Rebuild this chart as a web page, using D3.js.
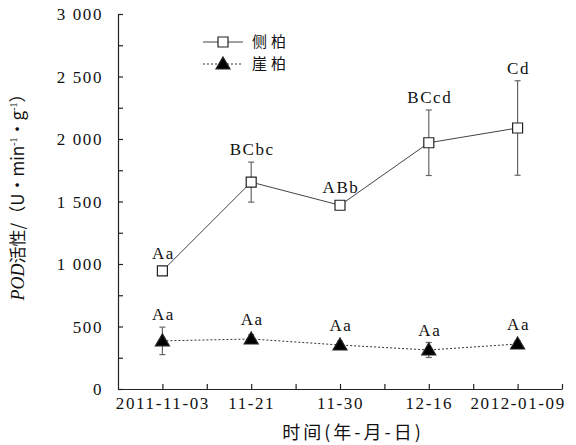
<!DOCTYPE html>
<html>
<head>
<meta charset="utf-8">
<script src="https://cdn.jsdelivr.net/npm/d3@7/dist/d3.min.js"></script>
<style>
  html, body { margin: 0; padding: 0; background: #fff; }
  svg { display: block; }
  .num { font-family: "Liberation Serif", "DejaVu Serif", serif; letter-spacing: 1.6px; }
  .cjk { font-family: "Noto Sans CJK SC", sans-serif; }
</style>
</head>
<body>
<svg id="chart" width="576" height="445"></svg>
<script>
// Sampling dates
const dates = ["2011-11-03", "11-21", "11-30", "12-16", "2012-01-09"];

// POD activity, U·min^-1·g^-1 (mean and standard error)
const cebaiMean = [945, 1655, 1470, 1970, 2088];
const cebaiErr  = [25, 160, 35, 262, 378];
const yabaiMean = [385, 400, 352, 312, 360];
const yabaiErr  = [110, 35, 30, 60, 25];

// Multiple-comparison letters
const cebaiSig = ["Aa", "BCbc", "ABb", "BCcd", "Cd"];
const yabaiSig = ["Aa", "Aa", "Aa", "Aa", "Aa"];

const seriesNames = ["侧柏", "崖柏"];
const yTicks = [0, 500, 1000, 1500, 2000, 2500, 3000];

const svg = d3.select("#chart");

const x = d3.scaleLinear().domain([-0.5, dates.length - 0.5]).range([118, 562]);
const y = d3.scaleLinear().domain([0, 3000]).range([389, 14]);

const fmt = d3.formatLocale({ decimal: ".", thousands: " ", grouping: [3], currency: ["", ""] }).format(",");

// Axes (ticks point inward)
svg.append("g").attr("transform", `translate(0,${y(0)})`)
  .call(d3.axisBottom(x).tickValues(d3.range(dates.length)).tickFormat(i => dates[i])
    .tickSizeInner(-5).tickSizeOuter(0).tickPadding(8));
svg.append("g").attr("transform", `translate(0,${y(0)})`)
  .call(d3.axisBottom(x).tickValues(d3.range(dates.length).map(i => i + 0.5)).tickFormat("")
    .tickSizeInner(-5).tickSizeOuter(0))
  .select(".domain").remove();

const yAxis = svg.append("g").attr("transform", `translate(${x(-0.5)},0)`)
  .call(d3.axisLeft(y).tickValues(yTicks).tickFormat(fmt)
    .tickSizeInner(-5).tickSizeOuter(0).tickPadding(15));
svg.append("g").attr("transform", `translate(${x(-0.5)},0)`)
  .call(d3.axisLeft(y).tickValues(yTicks.slice(0, -1).map(v => v + 250)).tickFormat("")
    .tickSizeInner(-5).tickSizeOuter(0))
  .select(".domain").remove();

svg.selectAll(".domain, .tick line").attr("stroke", "#222").attr("stroke-width", 1.2);
svg.selectAll(".tick text").attr("class", "num").attr("font-size", 17).attr("fill", "#111");
yAxis.selectAll(".tick text").attr("dy", "0.35em");

// Axis titles
svg.append("text").attr("class", "cjk")
  .attr("x", 353).attr("y", 439).attr("text-anchor", "middle")
  .attr("font-size", 18).attr("letter-spacing", "3px").attr("fill", "#111")
  .text("时间(年-月-日)");

const yl = svg.append("text")
  .attr("transform", "translate(24,193) rotate(-90)")
  .attr("text-anchor", "middle").attr("font-size", 17).attr("fill", "#111");
yl.append("tspan").attr("font-family", "Liberation Serif").attr("font-style", "italic").attr("font-size", 18).text("POD");
yl.append("tspan").attr("class", "cjk").text("活性/（U·min");
yl.append("tspan").attr("font-family", "Liberation Serif").attr("font-size", 10).attr("dy", -7).text("-1");
yl.append("tspan").attr("class", "cjk").attr("dy", 7).text("·g");
yl.append("tspan").attr("font-family", "Liberation Serif").attr("font-size", 10).attr("dy", -7).text("-1");
yl.append("tspan").attr("class", "cjk").attr("dy", 7).text("）");

// Draws one series: connecting line, error bars, markers, letters
function drawSeries(mean, err, sig, opts) {
  const g = svg.append("g");
  const line = d3.line().x((d, i) => x(i)).y(d => y(d));
  g.append("path").datum(mean).attr("d", line)
    .attr("fill", "none").attr("stroke", opts.lineColor).attr("stroke-width", 1)
    .attr("stroke-dasharray", opts.dash || null);

  const eb = g.selectAll(".eb").data(mean).join("g").attr("class", "eb");
  eb.append("line")
    .attr("x1", (d, i) => x(i)).attr("x2", (d, i) => x(i))
    .attr("y1", (d, i) => y(d + err[i])).attr("y2", (d, i) => y(d - err[i]))
    .attr("stroke", "#666").attr("stroke-width", 1.2);
  [1, -1].forEach(s => {
    eb.append("line")
      .attr("x1", (d, i) => x(i) - 3).attr("x2", (d, i) => x(i) + 3)
      .attr("y1", (d, i) => y(d + s * err[i])).attr("y2", (d, i) => y(d + s * err[i]))
      .attr("stroke", "#666").attr("stroke-width", 1.2);
  });

  g.selectAll(".mk").data(mean).join("path").attr("class", "mk")
    .attr("transform", (d, i) => `translate(${x(i)},${y(d)})`)
    .attr("d", opts.marker)
    .attr("fill", opts.fill).attr("stroke", "#222").attr("stroke-width", 1.2);

  g.selectAll(".sig").data(sig).join("text").attr("class", "sig num")
    .attr("x", (d, i) => x(i) + 1)
    .attr("y", (d, i) => Math.min(y(mean[i] + err[i]), y(mean[i]) - opts.half) - 7)
    .attr("text-anchor", "middle").attr("font-size", 17).attr("fill", "#111")
    .text(d => d);
}

const squarePath = "M-5,-5H5V5H-5Z";
const trianglePath = "M0,-7L7,5H-7Z";

drawSeries(cebaiMean, cebaiErr, cebaiSig, { lineColor: "#444", marker: squarePath, fill: "#fff", half: 5 });
drawSeries(yabaiMean, yabaiErr, yabaiSig, { lineColor: "#333", dash: "2,2", marker: trianglePath, fill: "#000", half: 7 });

// Legend
const legend = svg.append("g");
const rows = [
  { name: seriesNames[0], dash: null, marker: squarePath, fill: "#fff", color: "#444" },
  { name: seriesNames[1], dash: "2,2", marker: trianglePath, fill: "#000", color: "#333" }
];
rows.forEach((r, k) => {
  const cy = 42 + k * 22;
  legend.append("line").attr("x1", 203).attr("x2", 243).attr("y1", cy).attr("y2", cy)
    .attr("stroke", r.color).attr("stroke-width", 1).attr("stroke-dasharray", r.dash);
  legend.append("path").attr("transform", `translate(223,${cy})`).attr("d", r.marker)
    .attr("fill", r.fill).attr("stroke", "#222").attr("stroke-width", 1.2);
  legend.append("text").attr("class", "cjk").attr("x", 252).attr("y", cy).attr("dy", "0.36em")
    .attr("font-size", 15).attr("letter-spacing", "4px").attr("fill", "#111").text(r.name);
});
</script>
</body>
</html>
